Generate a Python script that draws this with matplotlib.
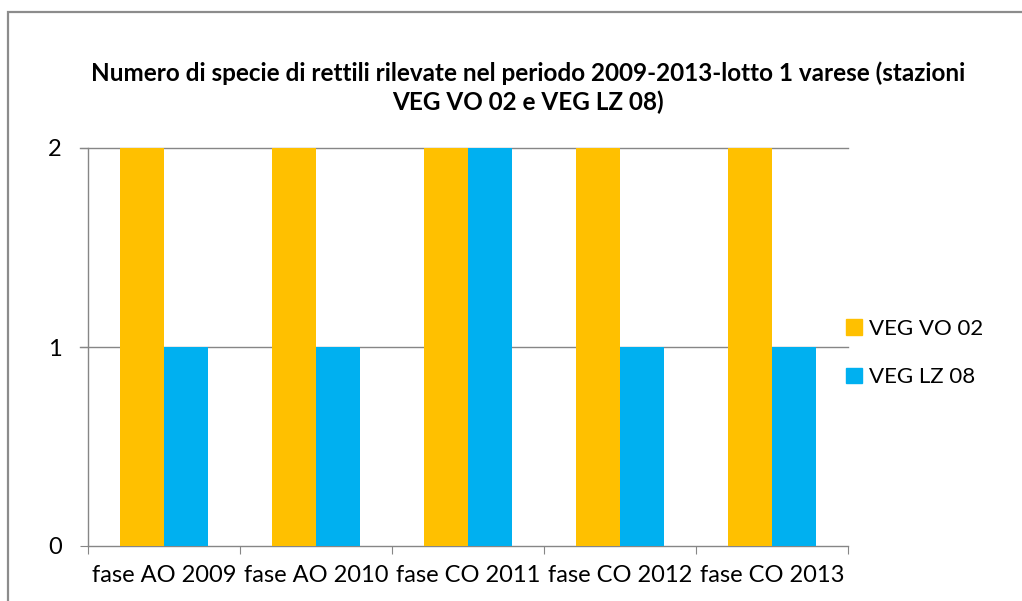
import numpy as np
import matplotlib.pyplot as plt
from matplotlib.patches import Rectangle, Patch

plt.rcParams['font.family'] = ['Lato', 'DejaVu Sans']

categories = ["fase AO 2009", "fase AO 2010", "fase CO 2011", "fase CO 2012", "fase CO 2013"]
veg_vo_02 = [2, 2, 2, 2, 2]
veg_lz_08 = [1, 1, 2, 1, 1]
series_names = ["VEG VO 02", "VEG LZ 08"]
yticks = [0, 1, 2]

ORANGE = "#FFC000"
CYAN = "#00B0F0"
GRAY = "#868686"

W, H = 1022, 601
fig = plt.figure(figsize=(W / 100, H / 100), dpi=100)
fig.patch.set_facecolor("white")

# chart border (cut off at right and bottom like the screenshot)
fig.add_artist(Rectangle((8 / W, -0.05), 1.2, 1 - 12 / H + 0.05,
                         transform=fig.transFigure, fill=False,
                         edgecolor="#8c8c8c", linewidth=1.6))

ax = fig.add_axes([88 / W, 1 - 546 / H, 760 / W, 398 / H])

x = np.arange(len(categories))
bw = 0.29
ax.bar(x - bw / 2, veg_vo_02, width=bw, color=ORANGE, zorder=3)
ax.bar(x + bw / 2, veg_lz_08, width=bw, color=CYAN, zorder=3)

ax.set_xlim(-0.5, len(categories) - 0.5)
ax.set_ylim(0, 2)

for y in yticks[1:]:
    ax.plot([-0.55, len(categories) - 0.5], [y, y], color=GRAY, lw=1,
            clip_on=False, zorder=1)

for s in ["top", "right"]:
    ax.spines[s].set_visible(False)
for s in ["left", "bottom"]:
    ax.spines[s].set_color(GRAY)
    ax.spines[s].set_linewidth(1)

ax.set_yticks(yticks)
ax.tick_params(axis="y", length=6, color=GRAY, labelsize=17, pad=13)

ax.set_xticks(np.arange(len(categories) + 1) - 0.5)
ax.set_xticklabels([])
ax.tick_params(axis="x", which="major", length=6, color=GRAY)
ax.set_xticks(x, minor=True)
ax.set_xticklabels(categories, minor=True, fontsize=17)
ax.tick_params(axis="x", which="minor", length=0, pad=14)

fig.text(528 / W, 1 - 73 / H,
         "Numero di specie di rettili rilevate nel periodo 2009-2013-lotto 1 varese (stazioni",
         ha="center", va="center", fontsize=17.5, fontweight="bold")
fig.text(528 / W, 1 - 102 / H, "VEG VO 02 e VEG LZ 08)",
         ha="center", va="center", fontsize=17.5, fontweight="bold")

handles = [Patch(color=ORANGE), Patch(color=CYAN)]
fig.legend(handles, series_names, loc="center left",
           bbox_to_anchor=(826 / W, 1 - 353 / H), frameon=False,
           fontsize=16, handlelength=0.7, handleheight=0.7,
           handletextpad=0.35, labelspacing=1.3)

fig.savefig("out.png", dpi=100)
